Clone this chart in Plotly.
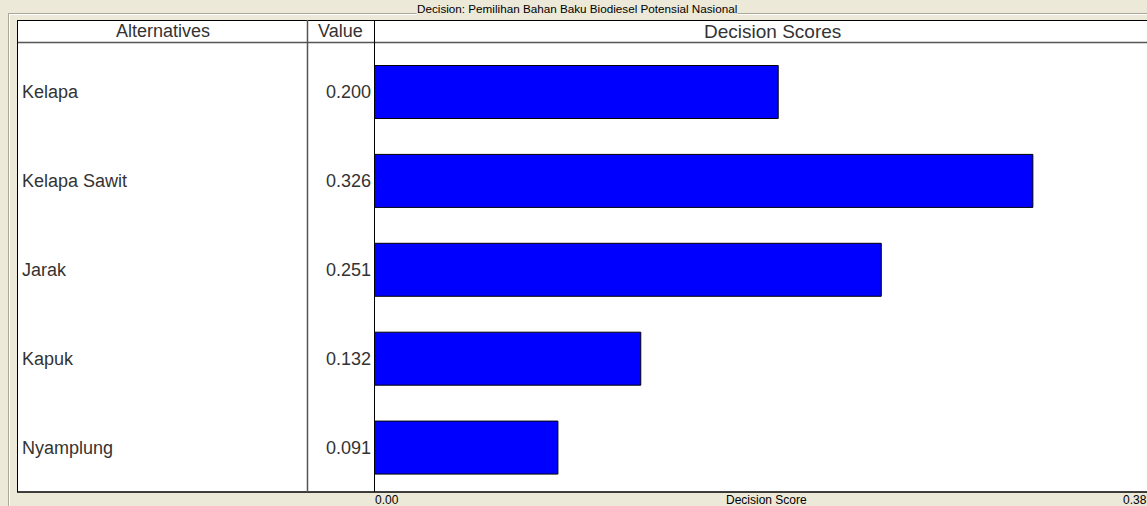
import plotly.graph_objects as go

W, H = 1147, 506

alternatives = ["Kelapa", "Kelapa Sawit", "Jarak", "Kapuk", "Nyamplung"]
scores = [0.200, 0.326, 0.251, 0.132, 0.091]
value_labels = ["0.200", "0.326", "0.251", "0.132", "0.091"]
axis_min, axis_max = 0.0, 0.38
axis_tick_labels = ["0.00", "0.38"]
title_text = "Decision: Pemilihan Bahan Baku Biodiesel Potensial Nasional"
header_labels = ["Alternatives", "Value", "Decision Scores"]
axis_title = "Decision Score"

BG = "#ECE9D8"
FONT = "Liberation Sans, Arial, sans-serif"

def px(x):
    return x / W

def py(y):
    return 1 - y / H

fig = go.Figure()
fig.add_trace(go.Bar(
    x=scores, y=alternatives, orientation="h",
    marker=dict(color="#0000FF", line=dict(color="#000000", width=1)),
    width=0.596, hoverinfo="x+y"))

shapes = []
shapes.append(dict(type="rect", xref="paper", yref="paper", x0=px(17), x1=px(1147), y0=py(20), y1=py(492),
                   fillcolor="white", line=dict(width=0), layer="below"))

def hline(y, x0, x1, color, w=1):
    shapes.append(dict(type="line", xref="paper", yref="paper", x0=px(x0), x1=px(x1), y0=py(y), y1=py(y),
                       line=dict(color=color, width=w)))

def vline(x, y0, y1, color, w=1):
    shapes.append(dict(type="line", xref="paper", yref="paper", x0=px(x), x1=px(x), y0=py(y0), y1=py(y1),
                       line=dict(color=color, width=w)))

hline(13.5, 8, 1147, "#ACA899")
hline(14.5, 9, 1147, "#FFFFFF")
vline(8.5, 13.5, 506, "#ACA899")
vline(9.5, 14.5, 506, "#FFFFFF")
hline(20.5, 17, 1147, "#000000")
hline(42.5, 17, 1147, "#555555", 1.5)
hline(492, 17, 1147, "#000000", 1.5)
vline(17.5, 20, 492, "#000000")
vline(307.5, 20, 492, "#555555", 1.5)
vline(374.5, 20, 492, "#000000")

annotations = []
annotations.append(dict(text=title_text, xref="paper", yref="paper", x=px(577), y=py(8),
                        xanchor="center", yanchor="middle", showarrow=False, bgcolor=BG,
                        font=dict(family=FONT, size=11.7, color="#000000"), borderpad=0))
for lab, cx, fs in zip(header_labels, [163, 340, 772], [18, 18, 19]):
    annotations.append(dict(text=lab, xref="paper", yref="paper", x=px(cx), y=py(31.5),
                            xanchor="center", yanchor="middle", showarrow=False,
                            font=dict(family=FONT, size=fs, color="#333333")))
for alt, vl in zip(alternatives, value_labels):
    annotations.append(dict(text=alt, xref="paper", yref="y", x=px(20), y=alt,
                            xanchor="left", yanchor="middle", showarrow=False,
                            font=dict(family=FONT, size=18, color="#333333")))
    annotations.append(dict(text=vl, xref="paper", yref="y", x=px(373), y=alt,
                            xanchor="right", yanchor="middle", showarrow=False,
                            font=dict(family=FONT, size=18, color="#333333")))
annotations.append(dict(text=axis_tick_labels[0], xref="paper", yref="paper", x=px(373), y=py(499.5),
                        xanchor="left", yanchor="middle", showarrow=False,
                        font=dict(family=FONT, size=12, color="#000000")))
annotations.append(dict(text=axis_title, xref="paper", yref="paper", x=px(766), y=py(499.5),
                        xanchor="center", yanchor="middle", showarrow=False,
                        font=dict(family=FONT, size=12, color="#000000")))
annotations.append(dict(text=axis_tick_labels[1], xref="paper", yref="paper", x=px(1149), y=py(499.5),
                        xanchor="right", yanchor="middle", showarrow=False,
                        font=dict(family=FONT, size=12, color="#000000")))

fig.update_layout(
    width=W, height=H, margin=dict(l=0, r=0, t=0, b=0),
    paper_bgcolor=BG, plot_bgcolor="white", showlegend=False,
    xaxis=dict(domain=[px(374), px(1142)], range=[axis_min, axis_max], showgrid=False,
               zeroline=False, showticklabels=False, ticks="", fixedrange=True),
    yaxis=dict(domain=[py(492), py(42)], range=[4.4996, -0.5624], showgrid=False,
               zeroline=False, showticklabels=False, ticks="", fixedrange=True),
    shapes=shapes, annotations=annotations,
)

fig.write_html("out.html", config={"displayModeBar": False})
